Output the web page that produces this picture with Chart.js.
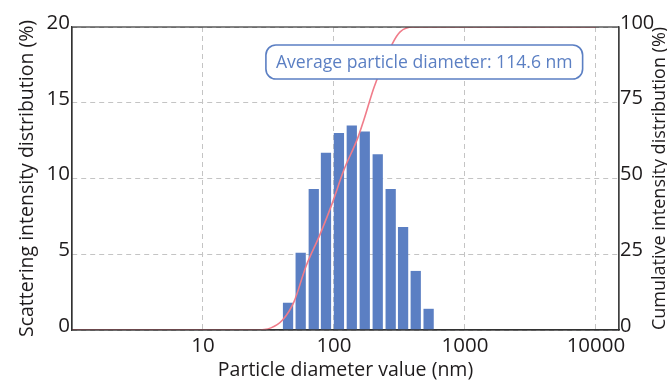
<!DOCTYPE html>
<html>
<head>
<meta charset="utf-8">
<script src="https://cdn.jsdelivr.net/npm/chart.js@4.4.1/dist/chart.umd.min.js"></script>
<style>
  html, body { margin: 0; padding: 0; background: #fff; }
  #wrap { width: 667px; height: 382px; }
</style>
</head>
<body>
<div id="wrap"><canvas id="sizeChart"></canvas></div>
<script>
// particle diameter bins (nm) and scattering intensity (%)
const diameters = [44.6, 55.7, 70.1, 86.9, 109.1, 136.8, 171.8, 215.8, 271, 337, 421, 528];
const intensity = [1.8, 5.1, 9.3, 11.7, 13.0, 13.5, 13.1, 11.6, 9.3, 6.8, 3.9, 1.4];

// cumulative curve
const cumDiameters = [1, 25, 33, 40.5, 49.5, 61, 78, 96, 119, 152, 169, 203, 280, 320, 400, 10000];
const cumulative = [0, 0, 0.7, 3.3, 9.3, 20.9, 31.4, 41.3, 52.8, 63.4, 69.3, 80.3, 94.6, 98.4, 100, 100];

const xTicks = [10, 100, 1000, 10000];
const leftTitle = "Scattering intensity distribution (%)";
const rightTitle = "Cumulative intensity distribution (%)";
const xTitle = "Particle diameter value (nm)";
const note = "Average particle diameter: 114.6 nm";

const FONT = "'Open Sans', sans-serif";
const TXT = "#1e1b1c";
const BLUE = "#5b7fc3";

const extras = {
  id: "extras",
  afterDatasetsDraw(chart) {
    const { ctx, chartArea: a } = chart;
    ctx.save();
    // frame
    ctx.strokeStyle = "#333";
    ctx.lineWidth = 1.2;
    ctx.strokeRect(a.left, a.top, a.right - a.left, a.bottom - a.top);

    // note box
    ctx.font = "17.6px " + FONT;
    const w = ctx.measureText(note).width + 20;
    const h = 34;
    const cx = a.left + (a.right - a.left) * 0.644;
    const cy = a.top + 35;
    const x = cx - w / 2, y = cy - h / 2;
    ctx.beginPath();
    ctx.roundRect(x, y, w, h, 10);
    ctx.fillStyle = "#fff";
    ctx.fill();
    ctx.lineWidth = 1.6;
    ctx.strokeStyle = BLUE;
    ctx.stroke();
    ctx.fillStyle = BLUE;
    ctx.textAlign = "center";
    ctx.textBaseline = "middle";
    ctx.fillText(note, cx, cy + 1);
    ctx.restore();
  },
  afterDraw(chart) {
    const { ctx, chartArea: a } = chart;
    ctx.save();
    ctx.font = "18px " + FONT;
    ctx.fillStyle = TXT;
    ctx.textAlign = "center";
    ctx.textBaseline = "middle";
    ctx.translate(660, (a.top + a.bottom) / 2);
    ctx.rotate(-Math.PI / 2);
    ctx.fillText(rightTitle, 0, 0);
    ctx.restore();
  }
};

new Chart(document.getElementById("sizeChart"), {
  type: "bar",
  data: {
    datasets: [
      {
        type: "line",
        label: "Cumulative",
        data: cumDiameters.map((d, i) => ({ x: d, y: cumulative[i] })),
        yAxisID: "y2",
        borderColor: "#f07c8a",
        borderWidth: 1.6,
        pointRadius: 0,
        cubicInterpolationMode: "monotone",
        fill: false,
        order: 0
      },
      {
        label: "Intensity",
        data: diameters.map((d, i) => ({ x: d, y: intensity[i] })),
        yAxisID: "y",
        backgroundColor: BLUE,
        borderWidth: 0,
        categoryPercentage: 1,
        barPercentage: 0.84,
        order: 1
      }
    ]
  },
  plugins: [extras],
  options: {
    responsive: true,
    maintainAspectRatio: false,
    animation: false,
    layout: { padding: { top: 27, left: 0, right: 0, bottom: 0 } },
    plugins: {
      legend: { display: false },
      tooltip: { enabled: false }
    },
    scales: {
      x: {
        type: "logarithmic",
        min: 1,
        max: 15000,
        offset: false,
        afterBuildTicks: s => { s.ticks = xTicks.map(v => ({ value: v })); },
        afterFit: s => { s.height = 52; },
        grid: {
          offset: false,
          drawTicks: false,
          color: "#c4c4c4",
          lineWidth: 1
        },
        border: { display: true, color: "#333", width: 1.2, dash: [5, 4] },
        ticks: {
          padding: 4,
          autoSkip: false,
          maxRotation: 0,
          color: TXT,
          font: { family: FONT, size: 20.5 },
          callback: v => String(v)
        },
        title: {
          display: true,
          text: xTitle,
          color: TXT,
          padding: { top: 0, bottom: 0 },
          font: { family: FONT, size: 19.5 }
        }
      },
      y: {
        position: "left",
        min: 0,
        max: 20,
        afterFit: s => { s.width = 72; },
        ticks: {
          stepSize: 5,
          padding: 2,
          labelOffset: -4,
          color: TXT,
          font: { family: FONT, size: 20.5 }
        },
        grid: { drawTicks: false, color: "#c4c4c4" },
        border: { display: true, color: "#333", width: 1.2, dash: [5, 4] },
        title: {
          display: true,
          text: leftTitle,
          color: TXT,
          padding: { top: 16, bottom: 0 },
          font: { family: FONT, size: 19.5 }
        }
      },
      y2: {
        position: "right",
        min: 0,
        max: 100,
        afterFit: s => { s.width = 48; },
        ticks: {
          stepSize: 25,
          padding: 1,
          labelOffset: -4,
          color: TXT,
          font: { family: FONT, size: 20 }
        },
        grid: { display: false, drawTicks: false },
        border: { display: true, color: "#555", width: 1.2 }
      }
    }
  }
});
</script>
</body>
</html>
